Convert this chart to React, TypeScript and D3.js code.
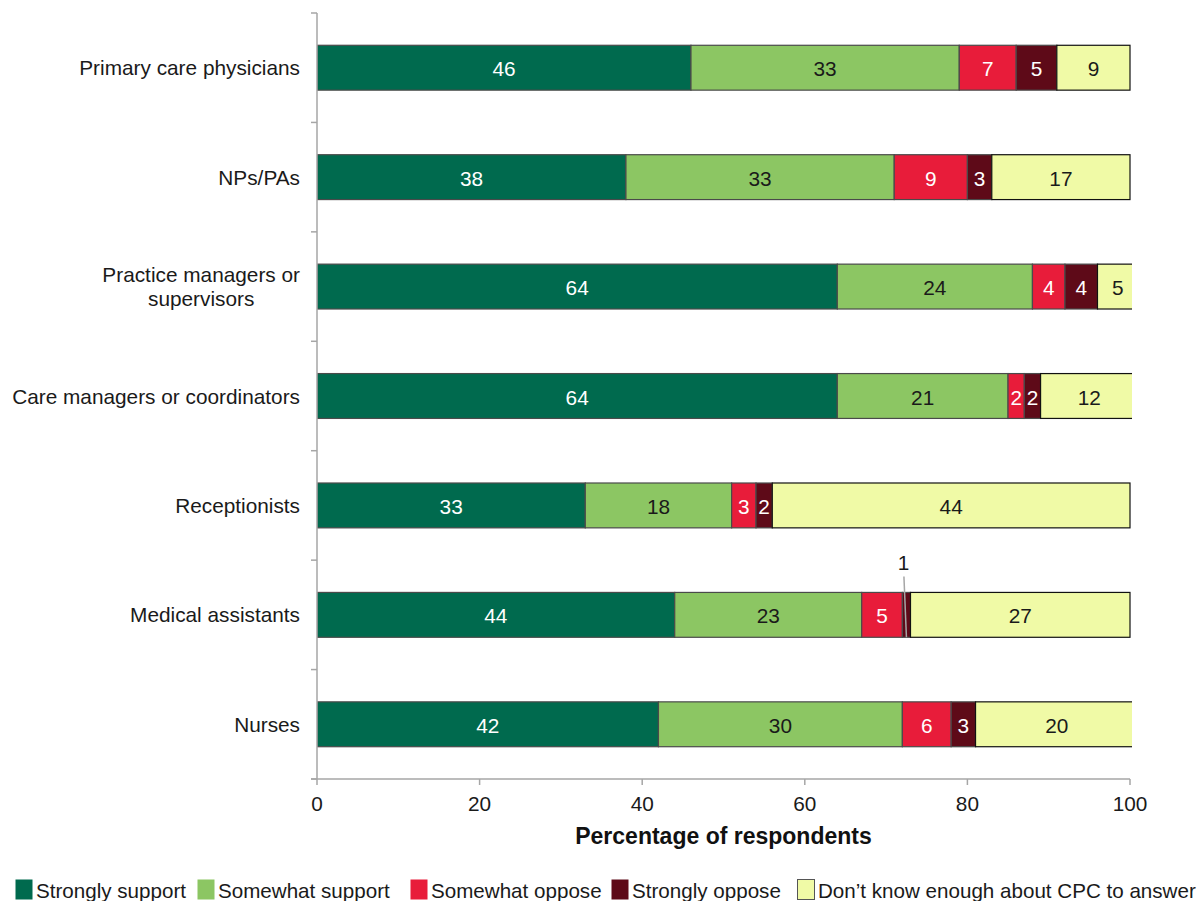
import React, { useEffect, useRef } from "react";
import * as d3 from "d3";

const categories = [
  "Primary care physicians",
  "NPs/PAs",
  "Practice managers or|supervisors",
  "Care managers or coordinators",
  "Receptionists",
  "Medical assistants",
  "Nurses",
];

const seriesNames = [
  "Strongly support",
  "Somewhat support",
  "Somewhat oppose",
  "Strongly oppose",
  "Don\u2019t know enough about CPC to answer",
];

const stronglySupport = [46, 38, 64, 64, 33, 44, 42];
const somewhatSupport = [33, 33, 24, 21, 18, 23, 30];
const somewhatOppose = [7, 9, 4, 2, 3, 5, 6];
const stronglyOppose = [5, 3, 4, 2, 2, 1, 3];
const dontKnow = [9, 17, 5, 12, 44, 27, 20];

const xTicks = [0, 20, 40, 60, 80, 100];

const fills = ["#006A4E", "#8CC663", "#E81C3A", "#5E0A18", "#F0FAA6"];
const strokes = ["#4a4a4a", "#4a4a4a", "#4a4a4a", "#4a4a4a", "#111111"];
const labelColors = ["#ffffff", "#1a1a1a", "#ffffff", "#ffffff", "#1a1a1a"];

const W = 1202;
const H = 901;
const FONT = "'Liberation Sans', Arial, sans-serif";
const FS = 20.8;

export default function App() {
  const ref = useRef<SVGSVGElement>(null);

  useEffect(() => {
    const svg = d3.select(ref.current);
    svg.selectAll("*").remove();

    const series = [stronglySupport, somewhatSupport, somewhatOppose, stronglyOppose, dontKnow];
    const rows = categories.map((c, i) => {
      const r: any = { cat: c };
      seriesNames.forEach((s, j) => (r[s] = series[j][i]));
      return r;
    });
    const stacked = d3.stack<any>().keys(seriesNames)(rows);

    const x = d3.scaleLinear().domain([0, 100]).range([317, 1130]);
    const y = d3.scaleBand<string>().domain(categories).range([13, 779]).paddingInner(0.59).paddingOuter(0.295);
    const band = d3.scaleBand<string>().domain(categories).range([13, 779]);

    svg.append("defs").append("clipPath").attr("id", "plotClip")
      .append("rect").attr("x", 317).attr("y", 0).attr("width", 1132 - 317).attr("height", 780);

    const plot = svg.append("g").attr("clip-path", "url(#plotClip)");

    stacked.forEach((layer, j) => {
      plot.append("g").selectAll("rect").data(layer).enter().append("rect")
        .attr("x", (d) => x(d[0]))
        .attr("y", (d) => y(d.data.cat)!)
        .attr("width", (d) => x(d[1]) - x(d[0]))
        .attr("height", y.bandwidth())
        .attr("fill", fills[j])
        .attr("stroke", strokes[j])
        .attr("stroke-width", 1.2);
    });

    // value labels
    stacked.forEach((layer, j) => {
      layer.forEach((d) => {
        const v = d[1] - d[0];
        const cx = (x(d[0]) + x(d[1])) / 2;
        const top = y(d.data.cat)!;
        const cy = top + y.bandwidth() / 2;
        if (v <= 1) {
          // too narrow: label above with a leader line
          svg.append("line")
            .attr("x1", cx - 2.5).attr("y1", top - 16)
            .attr("x2", cx).attr("y2", top + y.bandwidth())
            .attr("stroke", "#a6a6a6").attr("stroke-width", 1.5);
          svg.append("text")
            .attr("x", cx - 3).attr("y", top - 30)
            .attr("text-anchor", "middle").attr("dominant-baseline", "central")
            .attr("font-family", FONT).attr("font-size", FS).attr("fill", "#1a1a1a")
            .text(v);
        } else {
          svg.append("text")
            .attr("x", cx).attr("y", cy + 1)
            .attr("text-anchor", "middle").attr("dominant-baseline", "central")
            .attr("font-family", FONT).attr("font-size", FS).attr("fill", labelColors[j])
            .text(v);
        }
      });
    });

    // y axis
    const axisColor = "#a6a6a6";
    svg.append("line").attr("x1", 317).attr("x2", 317).attr("y1", 13).attr("y2", 779)
      .attr("stroke", axisColor).attr("stroke-width", 1.5);
    const yTickPos = categories.map((c) => band(c)!).concat([779]);
    yTickPos.forEach((p) => {
      svg.append("line").attr("x1", 311).attr("x2", 317).attr("y1", p).attr("y2", p)
        .attr("stroke", axisColor).attr("stroke-width", 1.5);
    });
    categories.forEach((c) => {
      const lines = c.split("|");
      const cy = band(c)! + band.bandwidth() / 2;
      const t = svg.append("text")
        .attr("font-family", FONT).attr("font-size", FS).attr("fill", "#1a1a1a");
      const lh = 24;
      lines.forEach((ln, k) => {
        t.append("tspan")
          .attr("x", 300)
          .attr("y", cy + (k - (lines.length - 1) / 2) * lh)
          .attr("dominant-baseline", "central")
          .attr("text-anchor", "end")
          .text(ln);
      });
      if (lines.length > 1) {
        const spans = t.selectAll<SVGTSpanElement, unknown>("tspan").nodes();
        const widths = spans.map((s) => s.getComputedTextLength());
        const mw = Math.max(...widths);
        spans.forEach((s) => {
          d3.select(s).attr("text-anchor", "middle").attr("x", 300 - mw / 2);
        });
      }
    });

    // x axis
    svg.append("line").attr("x1", 311).attr("x2", 1130).attr("y1", 779).attr("y2", 779)
      .attr("stroke", axisColor).attr("stroke-width", 1.5);
    xTicks.forEach((v) => {
      svg.append("line").attr("x1", x(v)).attr("x2", x(v)).attr("y1", 779).attr("y2", 785)
        .attr("stroke", axisColor).attr("stroke-width", 1.5);
      svg.append("text").attr("x", x(v)).attr("y", 803)
        .attr("text-anchor", "middle").attr("dominant-baseline", "central")
        .attr("font-family", FONT).attr("font-size", FS).attr("fill", "#1a1a1a")
        .text(v);
    });
    svg.append("text").attr("x", (x(0) + x(100)) / 2).attr("y", 836)
      .attr("text-anchor", "middle").attr("dominant-baseline", "central")
      .attr("font-family", FONT).attr("font-size", 23).attr("font-weight", "bold").attr("fill", "#111")
      .text("Percentage of respondents");

    // legend
    const legendX = [15, 197, 410, 611, 797];
    seriesNames.forEach((s, j) => {
      svg.append("rect").attr("x", legendX[j] + 0.5).attr("y", 879.5).attr("width", 17).attr("height", 20)
        .attr("fill", fills[j]).attr("stroke", j === 4 ? "#555" : "none");
      svg.append("text").attr("x", legendX[j] + 21).attr("y", 890)
        .attr("dominant-baseline", "central")
        .attr("font-family", FONT).attr("font-size", 20.6).attr("fill", "#1a1a1a")
        .text(s);
    });
  }, []);

  return (
    <svg
      ref={ref}
      width={W}
      height={H}
      style={{ position: "absolute", left: 0, top: 0, background: "#fff" }}
    />
  );
}
